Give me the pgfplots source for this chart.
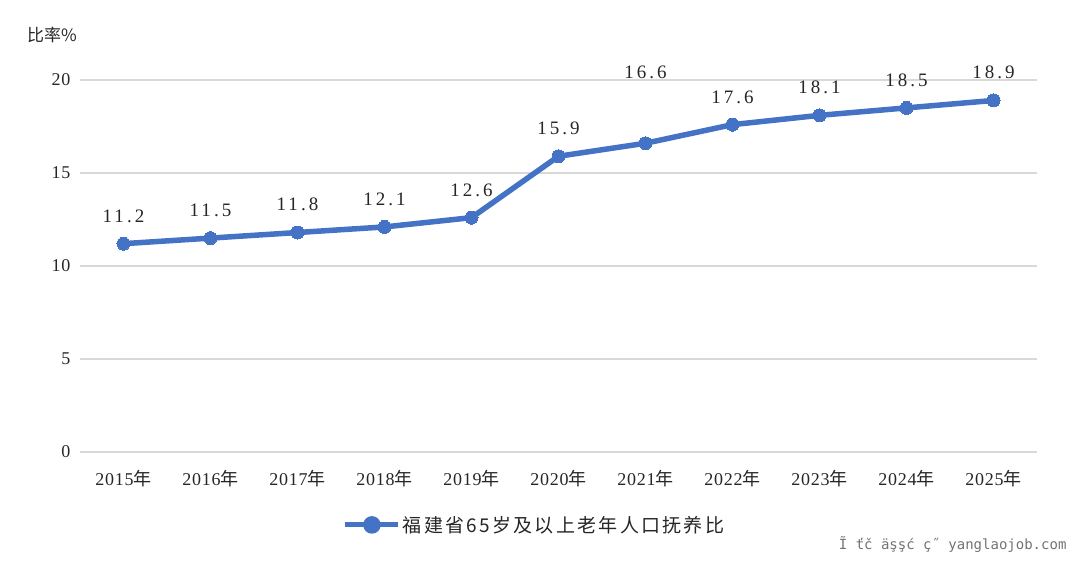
\documentclass[border=0pt]{standalone}
\usepackage{fontspec}
\setmainfont{Liberation Serif}
\newfontfamily\cjk{Noto Sans CJK SC}
\newfontfamily\cjkl[LetterSpace=12]{Noto Sans CJK SC}
\newfontfamily\lbl[LetterSpace=16]{Liberation Serif}
\newfontfamily\tck[LetterSpace=4]{Liberation Serif}
\newfontfamily\wm{DejaVu Sans Mono}
\usepackage{pgfplots}
\usepackage{pgfplotstable}
\pgfplotsset{compat=1.18}
\definecolor{linec}{RGB}{68,114,196}
\definecolor{gridc}{RGB}{217,217,217}
\pgfplotstableread{
x y off
0 11.2 0
1 11.5 0
2 11.8 0
3 12.1 0
4 12.6 0
5 15.9 0
6 16.6 43
7 17.6 0
8 18.1 0
9 18.5 0
10 18.9 0
}\data
\begin{document}
\begin{tikzpicture}
\begin{axis}[
  name=ax,
  scale only axis,
  width=957pt, height=372pt,
  xmin=-0.5, xmax=10.5,
  ymin=0, ymax=20,
  axis line style={draw=none},
  ytick={0,5,10,15,20},
  xtick={0,...,10},
  xticklabels={2015{\cjk 年},2016{\cjk 年},2017{\cjk 年},2018{\cjk 年},2019{\cjk 年},2020{\cjk 年},2021{\cjk 年},2022{\cjk 年},2023{\cjk 年},2024{\cjk 年},2025{\cjk 年}},
  major tick length=0pt,
  xmajorgrids=false,
  ymajorgrids=true,
  major grid style={draw=gridc, line width=1.3pt},
  tick label style={font=\tck\fontsize{18}{18}\selectfont, text=black!85},
  /pgf/number format/assume math mode=true,
  yticklabel style={xshift=-6pt},
  xticklabel style={yshift=-15pt},
  clip=false,
  legend style={at={(0.475,-0.196)}, anchor=center, draw=none, fill=none,
    font=\fontsize{19}{19}\selectfont\cjkl, text=black!85},
  legend image code/.code={
    \draw[linec, line width=5pt] (0pt,0pt) -- (53pt,0pt);
    \fill[linec] (26.5pt,0pt) circle (6pt);
  },
]
\addplot[linec, line width=5.5pt, mark=*, mark size=6.5pt, mark options={fill=linec, draw=linec, line width=0pt},
  visualization depends on={\thisrow{off} \as \off},
  nodes near coords,
  point meta=explicit symbolic,
  every node near coord/.append style={font=\lbl\fontsize{19}{19}\selectfont, text=black!85, yshift=18pt+\off pt},
] table[x=x, y=y, meta=y] {\data};
\addlegendentry{福建省65岁及以上老年人口抚养比}
\node[anchor=center, font=\fontsize{17}{17}\selectfont\cjk, text=black!85] at ([xshift=-28pt,yshift=45pt]rel axis cs:0,1) {比率\%};
\node[anchor=east, font=\wm\fontsize{14}{14}\selectfont, text=black!55] at ([xshift=33pt,yshift=-93pt]rel axis cs:1,0) {Ĩ ťč  äşşć  ç˝  yanglaojob.com};
\coordinate (sw) at ([xshift=-80pt,yshift=-109pt]rel axis cs:0,0);
\end{axis}
\pgfresetboundingbox
\useasboundingbox (sw) rectangle ++(1080pt,561pt);
\end{tikzpicture}
\end{document}
